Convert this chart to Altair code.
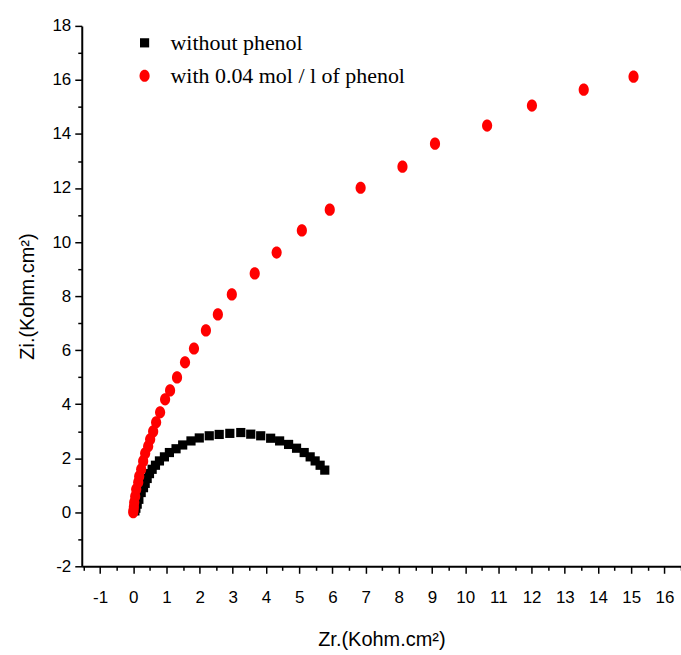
import altair as alt
import pandas as pd

# Series: without phenol (black squares)
zr_without = [5.77, 5.63, 5.48, 5.33, 5.15, 4.92, 4.68, 4.41, 4.14, 3.84, 3.54, 3.24,
              2.91, 2.59, 2.29, 1.99, 1.74, 1.49, 1.29, 1.09, 0.94, 0.79, 0.67, 0.57,
              0.49, 0.42, 0.36, 0.31, 0.24, 0.17, 0.12, 0.08, 0.05]
zi_without = [1.56, 1.74, 1.90, 2.05, 2.21, 2.37, 2.51, 2.64, 2.74, 2.83, 2.89, 2.95,
              2.92, 2.88, 2.83, 2.75, 2.64, 2.49, 2.35, 2.21, 2.05, 1.90, 1.74, 1.59,
              1.43, 1.25, 1.07, 0.91, 0.73, 0.48, 0.30, 0.15, 0.05]

# Series: with 0.04 mol / l of phenol (red circles)
zr_with = [15.07, 13.57, 12.01, 10.66, 9.09, 8.11, 6.85, 5.92, 5.08, 4.32, 3.66, 2.97,
           2.55, 2.19, 1.83, 1.56, 1.32, 1.11, 0.96, 0.81, 0.69, 0.60, 0.51, 0.45,
           0.36, 0.30, 0.24, 0.18, 0.15, 0.09, 0.06, 0.03, 0.02, 0.01, 0.00]
zi_with = [16.12, 15.64, 15.05, 14.31, 13.64, 12.79, 12.01, 11.20, 10.43, 9.61, 8.84, 8.06,
           7.32, 6.73, 6.06, 5.55, 4.99, 4.51, 4.18, 3.70, 3.33, 2.99, 2.70, 2.44,
           2.18, 1.89, 1.59, 1.33, 1.11, 0.85, 0.59, 0.37, 0.20, 0.08, 0.00]

series_names = ["without phenol", "\u00a0with 0.04 mol / l of phenol"]

x_major = list(range(-1, 17))
x_minor = [v + 0.5 for v in range(-2, 17)]
y_major = list(range(-2, 19, 2))
y_minor = list(range(-1, 18, 2))

df = pd.concat([
    pd.DataFrame({"Zr": zr_without, "Zi": zi_without, "series": series_names[0], "ord": 0}),
    pd.DataFrame({"Zr": zr_with, "Zi": zi_with, "series": series_names[1], "ord": 1}),
], ignore_index=True)

ellipse = "M0,-1A0.83,1,0,1,1,0,1A0.83,1,0,1,1,0,-1Z"

xscale = alt.Scale(domain=[-1.55, 16.5], nice=False, zero=False)
yscale = alt.Scale(domain=[-2, 18], nice=False, zero=False)

axis_common = dict(
    grid=False, domainColor="black", domainWidth=2, tickColor="black", tickWidth=1.5,
    labelFont="Liberation Sans", labelFontSize=17, labelColor="black",
    labelExpr="datum.value + ''",
    titleFont="Liberation Sans", titleFontSize=20, titleFontWeight="normal", titleColor="black",
)

points = alt.Chart(df).mark_point(filled=True, opacity=1, strokeWidth=0).encode(
    x=alt.X("Zr:Q", scale=xscale,
            axis=alt.Axis(values=x_major, tickSize=7, labelPadding=16, title="Zr.(Kohm.cm²)",
                          titlePadding=24, orient="bottom", **axis_common)),
    y=alt.Y("Zi:Q", scale=yscale,
            axis=alt.Axis(values=y_major, tickSize=7, labelPadding=4, title="Zi.(Kohm.cm²)",
                          titlePadding=14, orient="left", **axis_common)),
    color=alt.Color("series:N", scale=alt.Scale(domain=series_names, range=["black", "red"]),
                    legend=alt.Legend(title=None, orient="none", legendX=52, legendY=6,
                                      labelFont="Liberation Serif", labelFontSize=22,
                                      labelColor="black", labelOffset=15, rowPadding=11,
                                      labelLimit=500, symbolStrokeWidth=0)),
    shape=alt.Shape("series:N", scale=alt.Scale(domain=series_names, range=["square", ellipse])),
    size=alt.Size("series:N", scale=alt.Scale(domain=series_names, range=[85, 150])),
    order=alt.Order("ord:Q"),
)

minor = alt.Chart(df).mark_point(opacity=0).encode(
    x=alt.X("Zr:Q", scale=xscale,
            axis=alt.Axis(values=x_minor, tickSize=4, labels=False, title=None, domain=False,
                          orient="bottom", grid=False, tickColor="black", tickWidth=1.5)),
    y=alt.Y("Zi:Q", scale=yscale,
            axis=alt.Axis(values=y_minor, tickSize=4, labels=False, title=None, domain=False,
                          orient="left", grid=False, tickColor="black", tickWidth=1.5)),
)

chart = alt.layer(points, minor).resolve_axis(x="independent", y="independent").properties(
    width=601, height=542,
    autosize=alt.AutoSizeParams(type="none"),
    padding={"left": 82, "top": 25, "right": 0, "bottom": 88},
    background="white",
).configure_view(stroke=None)

chart.save("out.html", embed_options={"renderer": "svg", "actions": False})
